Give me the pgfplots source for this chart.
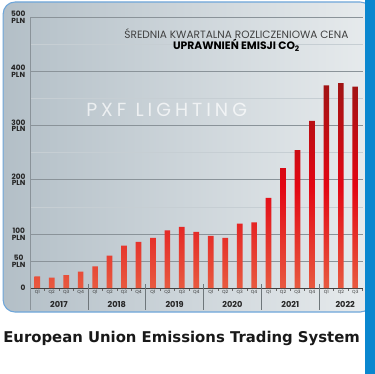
\documentclass[border=0pt]{standalone}
\usepackage{fontspec}
\setmainfont{Poppins}
\newfontfamily\bottomfont{DejaVu Sans}
\usepackage{pgfplots}
\pgfplotsset{compat=1.18}
\definecolor{blueband}{HTML}{0A87CF}
\definecolor{panelL}{HTML}{B3BFC7}
\definecolor{panelR}{HTML}{E7EBED}
\definecolor{panelBorder}{HTML}{6EA6DA}
\definecolor{barTop}{HTML}{A01414}
\definecolor{barMid}{HTML}{E30613}
\definecolor{barBot}{HTML}{E85A40}
\definecolor{majgrid}{HTML}{8A9399}
\definecolor{mingrid}{HTML}{C6CED3}
\begin{document}
\begin{tikzpicture}[x=1pt,y=1pt]
\fill[white] (0,0) rectangle (375,375);
\shade[left color=panelL, right color=panelR, rounded corners=12pt] (2,62) rectangle (372,373);
\draw[panelBorder, line width=1.1pt, rounded corners=12pt] (2,62) rectangle (372,373);
\begin{axis}[
  at={(29pt,86pt)}, anchor=south west,
  scale only axis, width=333.5pt, height=271.5pt,
  xmin=-0.5, xmax=22.5, ymin=0, ymax=500,
  clip=false,
  axis x line*=bottom, axis y line*=left,
  x axis line style={draw=black!75, line width=0.8pt, -},
  y axis line style={draw=majgrid, line width=0.8pt, -},
  xtick={0,...,22},
  xticklabels={Q1,Q2,Q3,Q4,Q1,Q2,Q3,Q4,Q1,Q2,Q3,Q4,Q1,Q2,Q3,Q4,Q1,Q2,Q3,Q4,Q1,Q2,Q3},
  xticklabel style={font=\fontsize{4.5}{4.5}\selectfont, text=black!80, yshift=1pt},
  major tick length=0pt,
  minor xtick={-0.5,0.5,...,22.5},
  minor tick length=2.5pt, tick align=inside,
  minor x tick style={draw=black!60, line width=0.5pt},
  ytick={0,100,200,300,400,500},
  yticklabels={0,{100\\PLN},{200\\PLN},{300\\PLN},{400\\PLN},{500\\PLN}},
  extra y ticks={50},
  extra y tick labels={{50\\PLN}},
  extra y tick style={grid style={mingrid, line width=0.8pt}},
  minor ytick={150,250,350,450},
  minor y tick style={draw=none},
  ymajorgrids, yminorgrids,
  major grid style={majgrid, line width=0.9pt},
  minor grid style={mingrid, line width=0.8pt},
  yticklabel style={align=center, font=\bfseries\fontsize{7.4}{6.8}\selectfont, text=black!85, xshift=-1pt},
  /pgf/number format/assume math mode=true,
  ybar, bar width=5.7pt,
]
\addplot[draw=none, bar shift=0pt, top color=barTop, bottom color=barBot, middle color=barMid]
coordinates {
(0,21.5) (1,19.6) (2,24) (3,30.7)
(4,40) (5,60) (6,78.6) (7,85.3)
(8,92.7) (9,106.8) (10,113) (11,104)
(12,96.3) (13,93) (14,119) (15,121.6)
(16,166.7) (17,221.6) (18,255) (19,309)
(20,374.5) (21,378.8) (22,372)
};
\draw[majgrid, line width=0.8pt] (axis cs:-0.5,0) -- ([yshift=-22pt]axis cs:-0.5,0);
\draw[majgrid!80!black, line width=0.7pt] ([yshift=4pt]axis cs:3.5,0) -- ([yshift=-22pt]axis cs:3.5,0);
\draw[majgrid!80!black, line width=0.7pt] ([yshift=4pt]axis cs:7.5,0) -- ([yshift=-22pt]axis cs:7.5,0);
\draw[majgrid!80!black, line width=0.7pt] ([yshift=4pt]axis cs:11.5,0) -- ([yshift=-22pt]axis cs:11.5,0);
\draw[majgrid!80!black, line width=0.7pt] ([yshift=4pt]axis cs:15.5,0) -- ([yshift=-22pt]axis cs:15.5,0);
\draw[majgrid!80!black, line width=0.7pt] ([yshift=4pt]axis cs:19.5,0) -- ([yshift=-22pt]axis cs:19.5,0);
\node[font=\bfseries\fontsize{8.2}{8.2}\selectfont, text=black!85] at ([yshift=-16pt]axis cs:1.5,0) {2017};
\node[font=\bfseries\fontsize{8.2}{8.2}\selectfont, text=black!85] at ([yshift=-16pt]axis cs:5.5,0) {2018};
\node[font=\bfseries\fontsize{8.2}{8.2}\selectfont, text=black!85] at ([yshift=-16pt]axis cs:9.5,0) {2019};
\node[font=\bfseries\fontsize{8.2}{8.2}\selectfont, text=black!85] at ([yshift=-16pt]axis cs:13.5,0) {2020};
\node[font=\bfseries\fontsize{8.2}{8.2}\selectfont, text=black!85] at ([yshift=-16pt]axis cs:17.5,0) {2021};
\node[font=\bfseries\fontsize{8.2}{8.2}\selectfont, text=black!85] at ([yshift=-16pt]axis cs:21.3,0) {2022};
\end{axis}
\node[anchor=base, font=\fontsize{10.6}{10.6}\selectfont, text=black!75] at (236,336) {ŚREDNIA KWARTALNA ROZLICZENIOWA CENA};
\node[anchor=base, font=\bfseries\fontsize{10.8}{10.8}\selectfont, text=black] at (236,325) {UPRAWNIEŃ EMISJI CO\textsubscript{2}};
\node[text=white, opacity=0.7, font=\fontsize{19}{19}\selectfont\addfontfeatures{LetterSpace=21}] at (166,265) {PXF LIGHTING};
\node[anchor=base, font=\bottomfont\bfseries\fontsize{14.9}{14.9}\selectfont, text=black!90] at (181,31) {European Union Emissions Trading System};
\fill[blueband] (365,0) rectangle (375,375);
\end{tikzpicture}
\end{document}
